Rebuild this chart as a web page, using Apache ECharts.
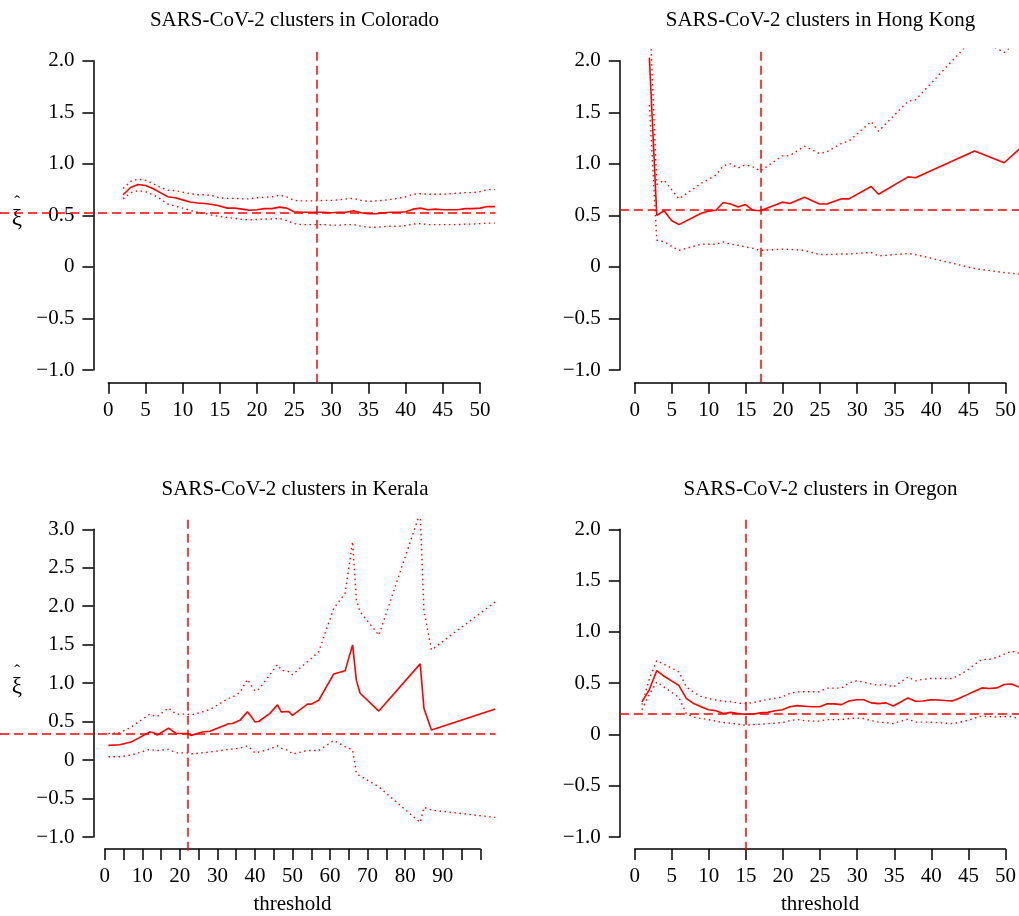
<!DOCTYPE html>
<html>
<head>
<meta charset="utf-8">
<script src="https://cdn.jsdelivr.net/npm/echarts@6/dist/echarts.min.js"></script>
<style>
html, body { margin: 0; padding: 0; background: #fff; }
#main { width: 1019px; height: 916px; }
</style>
</head>
<body>
<div id="main"></div>
<script>
// ---- data ----
const coX = [2, 3, 4, 5, 6, 7, 8, 9, 10, 11, 12, 13, 14, 15, 16, 17, 18, 19, 20, 21, 22, 23, 24, 25, 26, 27,
  28, 29, 30, 31, 32, 33, 34, 35, 36, 37, 38, 39, 40, 41, 42, 43, 44, 45, 46, 47, 48, 49, 50, 51, 52]
const coMid = [0.70, 0.77, 0.80, 0.79, 0.76, 0.72, 0.68, 0.67, 0.65, 0.63, 0.62, 0.615, 0.605, 0.59, 0.57, 0.57,
  0.56, 0.55, 0.555, 0.565, 0.565, 0.58, 0.57, 0.535, 0.53, 0.53, 0.53, 0.53, 0.525, 0.53, 0.53, 0.545, 0.525,
  0.515, 0.515, 0.525, 0.53, 0.53, 0.535, 0.56, 0.57, 0.555, 0.56, 0.555, 0.555, 0.555, 0.565, 0.565, 0.57, 0.585, 0.585]
const coUpper = [0.76, 0.83, 0.85, 0.84, 0.81, 0.77, 0.745, 0.74, 0.725, 0.71, 0.70, 0.70, 0.69, 0.67, 0.665, 0.665,
  0.66, 0.66, 0.67, 0.675, 0.68, 0.695, 0.68, 0.645, 0.64, 0.64, 0.64, 0.645, 0.645, 0.65, 0.66, 0.665, 0.645,
  0.635, 0.64, 0.645, 0.655, 0.665, 0.68, 0.705, 0.71, 0.705, 0.705, 0.705, 0.71, 0.715, 0.72, 0.72, 0.73, 0.75, 0.75]
const coLower = [0.66, 0.72, 0.74, 0.73, 0.70, 0.66, 0.61, 0.59, 0.57, 0.55, 0.53, 0.52, 0.50, 0.49, 0.48, 0.47,
  0.46, 0.455, 0.46, 0.465, 0.465, 0.47, 0.45, 0.42, 0.41, 0.41, 0.41, 0.41, 0.405, 0.405, 0.41, 0.41, 0.395,
  0.385, 0.385, 0.39, 0.395, 0.395, 0.40, 0.415, 0.42, 0.41, 0.41, 0.41, 0.41, 0.41, 0.415, 0.415, 0.42, 0.425, 0.425]

const hkX = [2, 3, 4, 5, 6, 9, 10, 11, 12, 13, 14, 15, 16, 17, 20, 21, 23, 25, 26, 28, 29, 32, 33, 37, 38, 46, 50, 52]
const hkMid = [2.03, 0.50, 0.545, 0.45, 0.41, 0.52, 0.54, 0.55, 0.625, 0.61, 0.58, 0.605, 0.55, 0.545, 0.628,
  0.615, 0.676, 0.61, 0.61, 0.66, 0.66, 0.78, 0.705, 0.873, 0.865, 1.125, 1.01, 1.14]
const hkUpper = [2.5, 0.80, 0.84, 0.75, 0.66, 0.81, 0.85, 0.89, 0.98, 1.00, 0.96, 0.99, 0.97, 0.93, 1.077, 1.08,
  1.17, 1.10, 1.115, 1.197, 1.22, 1.41, 1.316, 1.607, 1.62, 2.23, 2.08, 2.2]
const hkLower = [1.57, 0.26, 0.243, 0.20, 0.16, 0.22, 0.22, 0.22, 0.243, 0.22, 0.21, 0.194, 0.18, 0.16, 0.172,
  0.17, 0.16, 0.12, 0.12, 0.125, 0.125, 0.14, 0.107, 0.13, 0.12, -0.016, -0.055, -0.07]

const keX = [1, 4, 7, 9, 12, 13, 14, 17, 19, 22, 23, 26, 28, 33, 34, 36, 38, 39, 40, 41, 44, 46, 47, 49, 50,
  54, 55, 57, 61, 64, 66, 67, 68, 73, 84, 85, 87, 104]
const keMid = [0.207, 0.215, 0.25, 0.30, 0.38, 0.37, 0.34, 0.43, 0.36, 0.36, 0.336, 0.38, 0.39, 0.487, 0.49,
  0.53, 0.64, 0.58, 0.51, 0.515, 0.62, 0.73, 0.64, 0.645, 0.595, 0.74, 0.74, 0.79, 1.13, 1.17, 1.505, 1.05,
  0.88, 0.65, 1.26, 0.685, 0.405, 0.677]
const keUpper = [0.36, 0.37, 0.44, 0.51, 0.61, 0.59, 0.58, 0.69, 0.61, 0.61, 0.60, 0.64, 0.67, 0.815, 0.83,
  0.89, 1.06, 0.98, 0.91, 0.93, 1.12, 1.25, 1.18, 1.16, 1.12, 1.29, 1.33, 1.42, 1.98, 2.17, 2.84, 2.09,
  1.935, 1.63, 3.22, 1.95, 1.44, 2.06]
const keLower = [0.06, 0.06, 0.08, 0.11, 0.155, 0.145, 0.14, 0.155, 0.11, 0.11, 0.095, 0.11, 0.12, 0.155, 0.16,
  0.17, 0.20, 0.16, 0.11, 0.12, 0.16, 0.20, 0.17, 0.14, 0.095, 0.14, 0.14, 0.14, 0.27, 0.19, 0.146, -0.155,
  -0.19, -0.33, -0.79, -0.595, -0.63, -0.725]

const orX = [1, 2, 3, 4, 5, 6, 7, 8, 9, 10, 11, 12, 13, 14, 15, 16, 17, 18, 19, 20, 21, 22, 23, 24, 25, 26,
  27, 28, 29, 30, 31, 32, 33, 34, 35, 36, 37, 38, 39, 40, 41, 42, 43, 44, 45, 46, 47, 48, 49, 50, 51, 52]
const orMid = [0.326, 0.446, 0.63, 0.575, 0.53, 0.485, 0.36, 0.31, 0.28, 0.25, 0.24, 0.213, 0.225, 0.213, 0.207,
  0.207, 0.22, 0.225, 0.24, 0.25, 0.28, 0.29, 0.285, 0.28, 0.28, 0.307, 0.307, 0.30, 0.335, 0.347, 0.347, 0.317,
  0.31, 0.317, 0.287, 0.325, 0.365, 0.333, 0.335, 0.346, 0.345, 0.34, 0.336, 0.365, 0.397, 0.43, 0.462, 0.456,
  0.462, 0.495, 0.50, 0.47]
const orUpper = [0.30, 0.55, 0.727, 0.69, 0.655, 0.617, 0.47, 0.42, 0.38, 0.36, 0.345, 0.33, 0.33, 0.315, 0.31,
  0.32, 0.335, 0.35, 0.36, 0.375, 0.41, 0.423, 0.425, 0.425, 0.425, 0.46, 0.46, 0.46, 0.51, 0.53, 0.52, 0.50,
  0.488, 0.495, 0.47, 0.52, 0.568, 0.53, 0.545, 0.553, 0.553, 0.553, 0.553, 0.59, 0.633, 0.69, 0.737, 0.74,
  0.757, 0.79, 0.818, 0.80]
const orLower = [0.25, 0.40, 0.52, 0.47, 0.42, 0.37, 0.21, 0.18, 0.165, 0.155, 0.14, 0.126, 0.12, 0.11, 0.10,
  0.105, 0.11, 0.115, 0.12, 0.126, 0.145, 0.155, 0.145, 0.14, 0.14, 0.155, 0.155, 0.155, 0.165, 0.17, 0.165,
  0.145, 0.13, 0.125, 0.116, 0.14, 0.16, 0.13, 0.13, 0.13, 0.125, 0.12, 0.116, 0.13, 0.145, 0.17, 0.19, 0.185,
  0.18, 0.185, 0.185, 0.165]

// chosen threshold (vertical) and estimate (horizontal) reference lines
const refV = [28, 17, 22, 15]
const refH = [0.528, 0.55, 0.362, 0.207]

const titles = [
  'SARS-CoV-2 clusters in Colorado',
  'SARS-CoV-2 clusters in Hong Kong',
  'SARS-CoV-2 clusters in Kerala',
  'SARS-CoV-2 clusters in Oregon',
]
const yLabels2 = { '-1': '\u22121.0', '-0.5': '\u22120.5', '0': '0', '0.5': '0.5', '1': '1.0', '1.5': '1.5', '2': '2.0' }
const yLabels3 = { '-1': '\u22121.0', '-0.5': '\u22120.5', '0': '0', '0.5': '0.5', '1': '1.0', '1.5': '1.5', '2': '2.0', '2.5': '2.5', '3': '3.0' }
const keXLabels = ['0', '10', '20', '30', '40', '50', '60', '70', '80', '90']

const RED = '#ff0000'
const FONT = 'Liberation Serif'

function pairs(xs, ys) {
  return xs.map((x, i) => [x, ys[i]])
}

// layout in px: xt = [xmin, xmax, pxmin, pxmax], yt = [ymin, ymax, pybottom, pytop],
// plot = [left, right, top, bottom], hStart = where the horizontal ref line begins
const panels = [
  { x: coX, mid: coMid, up: coUpper, lo: coLower, xt: [0, 50, 108.3, 480], yt: [-1, 2, 370, 60.7],
    plot: [93.4, 495.5, 49.3, 382.7], hStart: 0, ylab: true, xlab: false, yl: yLabels2, xfmt: v => String(v), tx: 294.5, ty: 20.5 },
  { x: hkX, mid: hkMid, up: hkUpper, lo: hkLower, xt: [0, 50, 634.7, 1006.7], yt: [-1, 2, 370, 60.7],
    plot: [619.8, 1021.6, 49.3, 382.7], hStart: 619.8, ylab: false, xlab: false, yl: yLabels2, xfmt: v => String(v), tx: 820.5, ty: 20.5 },
  { x: keX, mid: keMid, up: keUpper, lo: keLower, xt: [0, 100, 104.7, 480.3], yt: [-1, 3, 838.7, 529.3],
    plot: [93.4, 495.5, 518.3, 850.7], hStart: 0, ylab: true, xlab: true, yl: yLabels3,
    xfmt: v => keXLabels.indexOf(String(v)) >= 0 ? String(v) : '', tx: 295, ty: 489.5 },
  { x: orX, mid: orMid, up: orUpper, lo: orLower, xt: [0, 50, 634.7, 1006.7], yt: [-1, 2, 838.7, 529.3],
    plot: [619.8, 1021.6, 518.3, 850.7], hStart: 619.8, ylab: false, xlab: true, yl: yLabels2, xfmt: v => String(v), tx: 820.5, ty: 489.5 },
]

const axisLine = { show: true, onZero: false, lineStyle: { color: '#000', width: 1.5 } }
const axisTick = { show: true, length: 11, lineStyle: { color: '#000', width: 1.5 } }
const labelText = { color: '#000', fontFamily: FONT, fontSize: 21 }

const option = {
  animation: false,
  backgroundColor: '#fff',
  grid: [],
  xAxis: [],
  yAxis: [],
  series: [],
  graphic: [],
}

panels.forEach((p, i) => {
  const sx = (p.xt[3] - p.xt[2]) / (p.xt[1] - p.xt[0])
  const sy = (p.yt[2] - p.yt[3]) / (p.yt[1] - p.yt[0])
  const a = i * 2
  const b = i * 2 + 1
  // grid for the drawn axes: spans exactly the tick range
  option.grid.push({ left: p.xt[2], width: p.xt[3] - p.xt[2], top: p.yt[3], height: p.yt[2] - p.yt[3] })
  // grid for the data: the plotting region (clips the lines)
  option.grid.push({ left: p.hStart, width: p.plot[1] - p.hStart, top: p.plot[2], height: p.plot[3] - p.plot[2] })

  option.xAxis.push({
    gridIndex: a, type: 'value', min: p.xt[0], max: p.xt[1], interval: 5,
    offset: p.plot[3] - p.yt[2],
    axisLine, axisTick, splitLine: { show: false },
    axisLabel: { ...labelText, margin: 17, showMinLabel: true, showMaxLabel: true, hideOverlap: false, formatter: p.xfmt },
    name: p.xlab ? 'threshold' : '', nameLocation: 'middle', nameGap: 45, nameTextStyle: labelText,
  })
  option.yAxis.push({
    gridIndex: a, type: 'value', min: p.yt[0], max: p.yt[1], interval: 0.5,
    offset: p.xt[2] - p.plot[0],
    axisLine, axisTick, splitLine: { show: false },
    axisLabel: { ...labelText, margin: 19, showMinLabel: true, showMaxLabel: true, formatter: v => p.yl[String(v)] },
  })
  option.xAxis.push({
    gridIndex: b, type: 'value', show: false,
    min: p.xt[0] + (p.hStart - p.xt[2]) / sx,
    max: p.xt[0] + (p.plot[1] - p.xt[2]) / sx,
  })
  option.yAxis.push({
    gridIndex: b, type: 'value', show: false,
    min: p.yt[0] - (p.plot[3] - p.yt[2]) / sy,
    max: p.yt[1] + (p.yt[3] - p.plot[2]) / sy,
  })

  option.series.push({
    type: 'line', xAxisIndex: b, yAxisIndex: b, data: pairs(p.x, p.mid), symbol: 'none',
    lineStyle: { color: RED, width: 1.6 }, silent: true,
    markLine: {
      silent: true, symbol: 'none', label: { show: false },
      lineStyle: { color: RED, width: 1.5, type: [9, 5] },
      data: [{ yAxis: refH[i] }, { xAxis: refV[i] }],
    },
  })
  ;[p.up, p.lo].forEach((ys) => {
    option.series.push({
      type: 'line', xAxisIndex: b, yAxisIndex: b, data: pairs(p.x, ys), symbol: 'none', silent: true,
      lineStyle: { color: RED, width: 1.4, type: [1.5, 3.5] },
    })
  })

  option.graphic.push({
    type: 'text', x: p.tx, y: p.ty, silent: true,
    style: { text: titles[i], fill: '#000', font: '21px "Liberation Serif"', align: 'center', verticalAlign: 'middle' },
  })
  if (p.ylab) {
    // y-axis title: xi with a hat, upright, centred on the plotting region
    option.graphic.push({
      type: 'text', x: 17, y: (p.plot[2] + p.plot[3]) / 2 - 2, silent: true,
      style: {
        text: '{h|\u02c6}\n{g|\u03be}', fill: '#000', align: 'center', verticalAlign: 'middle',
        rich: {
          h: { fontFamily: FONT, fontSize: 17, lineHeight: 9, align: 'center' },
          g: { fontFamily: FONT, fontSize: 23, lineHeight: 22, align: 'center' },
        },
      },
    })
  }
})

const chart = echarts.init(document.getElementById('main'))
chart.setOption(option)
</script>
</body>
</html>
